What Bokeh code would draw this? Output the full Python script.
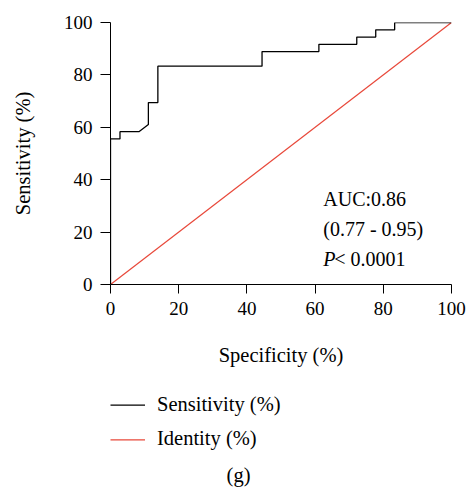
from bokeh.plotting import figure
from bokeh.layouts import column
from bokeh.models import Range1d, FixedTicker
from bokeh.core.properties import value
from bokeh.embed import file_html
from bokeh.resources import INLINE

# ROC curve data (step curve)
specificity = [0, 0, 2.78, 2.78, 8.33, 11.11, 11.11, 13.89, 13.89, 44.44, 44.44,
               61.11, 61.11, 72.22, 72.22, 77.78, 77.78, 83.33, 83.33, 100]
sensitivity = [0, 55.56, 55.56, 58.33, 58.33, 61.11, 69.44, 69.44, 83.33, 83.33, 88.89,
               88.89, 91.67, 91.67, 94.44, 94.44, 97.22, 97.22, 100, 100]
identity_x = [0, 100]
identity_y = [0, 100]
ticks = [0, 20, 40, 60, 80, 100]
auc_lines = ["AUC:0.86", "(0.77 - 0.95)"]
auc_y = [32.6, 21.2]
p_label = "P"
p_value = "< 0.0001"
p_y = 9.8
text_x = 62.4
legend_labels = ["Sensitivity (%)", "Identity (%)"]
legend_colors = ["#000000", "#e8483a"]
caption = "(g)"

FONT = "Liberation Serif"
FS = "19px"
FS_LAB = "20.5px"
FS_ANN = "20px"

p = figure(width=467, height=380, x_range=Range1d(0, 100), y_range=Range1d(0, 100),
           output_backend="svg", toolbar_location=None,
           min_border_left=110, min_border_right=16, min_border_top=22, min_border_bottom=96)
p.outline_line_color = None
p.grid.visible = False
p.background_fill_color = "white"

for ax in (p.xaxis, p.yaxis):
    ax.ticker = FixedTicker(ticks=ticks)
    ax.minor_tick_line_color = None
    ax.major_tick_in = 0
    ax.major_tick_out = 9
    ax.axis_line_color = "black"
    ax.major_tick_line_color = "black"
    ax.major_label_text_font = FONT
    ax.major_label_text_font_size = FS
    ax.major_label_text_color = "black"
    ax.axis_label_text_font = FONT
    ax.axis_label_text_font_size = FS_LAB
    ax.axis_label_text_font_style = "normal"
    ax.axis_label_text_color = "black"

p.xaxis.axis_label = "Specificity (%)"
p.yaxis.axis_label = "Sensitivity (%)"
p.xaxis.major_label_standoff = 8
p.yaxis.major_label_standoff = 8
p.yaxis.major_tick_out = 10
p.xaxis.axis_label_standoff = 26
p.yaxis.axis_label_standoff = 27

p.line(identity_x, identity_y, line_color=legend_colors[1], line_width=1.2)
p.line(specificity, sensitivity, line_color=legend_colors[0], line_width=1.3)

p.text(x=[text_x] * len(auc_lines), y=auc_y, text=auc_lines,
       text_font=value(FONT), text_font_size=FS_ANN, text_color="black",
       text_baseline="alphabetic", text_align="left")
p.text(x=[text_x], y=[p_y], text=[p_label], text_font=value(FONT), text_font_size=FS_ANN,
       text_font_style="italic", text_color="black", text_baseline="alphabetic")
p.text(x=[text_x], y=[p_y], text=[p_value], text_font=value(FONT), text_font_size=FS_ANN,
       text_color="black", text_baseline="alphabetic", x_offset=11)

# legend + caption panel: frame aligned with the main plot, ranges in window pixels
q = figure(width=467, height=107, x_range=Range1d(110, 451), y_range=Range1d(107, 0),
           output_backend="svg", toolbar_location=None,
           min_border_left=110, min_border_right=16, min_border_top=0, min_border_bottom=0)
q.axis.visible = False
q.grid.visible = False
q.outline_line_color = None

row_y = [24.7, 59.3]
q.segment(x0=[109.5, 109.5], y0=row_y, x1=[144.5, 144.5], y1=row_y,
          line_color=legend_colors, line_width=1.3)
q.text(x=[156.5, 156.5], y=[r - 1.5 for r in row_y], text=legend_labels, text_font=value(FONT),
       text_font_size=FS_LAB, text_color="black", text_baseline="middle", text_align="left")
q.text(x=[238], y=[94], text=[caption], text_font=value(FONT), text_font_size=FS_LAB,
       text_color="black", text_baseline="middle", text_align="center")

layout = column(p, q, spacing=0)
open("out.html", "w").write(file_html(layout, INLINE))
